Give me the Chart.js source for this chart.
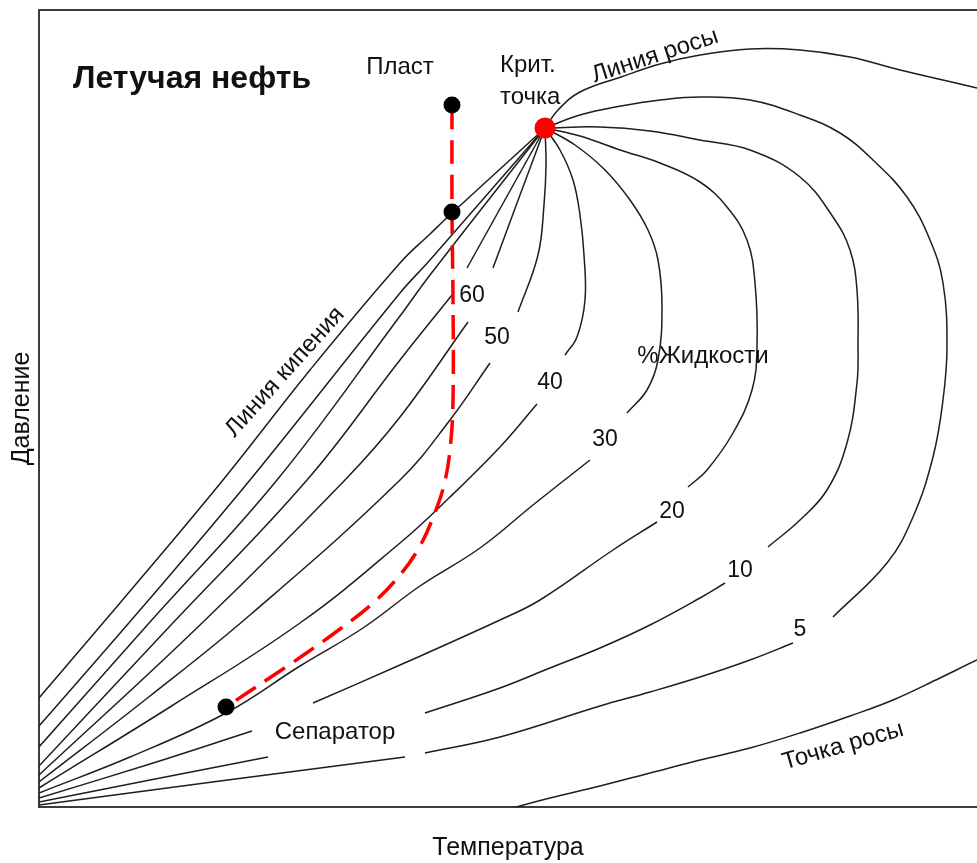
<!DOCTYPE html>
<html>
<head>
<meta charset="utf-8">
<script src="https://cdn.jsdelivr.net/npm/chart.js@4/dist/chart.umd.min.js"></script>
<style>
  html, body { margin: 0; padding: 0; background: #ffffff; overflow: hidden; }
  #c { display: block; }
</style>
</head>
<body>
<canvas id="c" width="977" height="863" style="width:977px;height:863px"></canvas>
<script>
// ---- Data (temperature, pressure) in arbitrary diagram units ----
const criticalPoint   = [[506, 679]];
const reservoirPoints = [[413, 702], [413, 595]];
const separatorPoint  = [[187, 100]];

const bubbleLine = [[506,679],[413,594],[391,573],[361,544],[271,437],[184,327],[81,204],[0,109],[-9,98]];
const lineA  = [[506,679],[391,547],[361,514],[211,327],[101,197],[0,81],[-9,71]];
const lineB  = [[506,679],[391,532],[361,491],[238,327],[111,185],[0,60],[-9,50]];
const lineCa = [[506,679],[428,539]];
const lineCb = [[413,512],[361,447],[268,327],[131,181],[0,41],[-9,31]];

const iso60a = [[506,679],[481,612],[454,539]];
const iso60b = [[429,485],[361,390],[306,327],[161,182],[0,32],[-9,24]];

const iso50a = [[506,679],[507,642],[505,602],[499,552],[479,495]];
const iso50b = [[451,444],[411,387],[361,327],[211,192],[111,111],[0,25],[-9,18]];

const iso40a = [[506,679],[521,657],[534,627],[541,592],[545,552],[546,507],[538,470],[526,452]];
const iso40b = [[498,403],[461,360],[411,310],[361,264],[261,184],[131,100],[0,19],[-9,13]];

const iso30a = [[506,679],[536,662],[566,637],[591,607],[609,577],[619,547],[623,500],[619,447],[608,417],[588,394]];
const iso30b = [[551,347],[494,302],[441,259],[381,221],[324,179],[261,141],[187,94],[91,50],[0,14],[-9,10]];

const iso20a = [[506,679],[541,671],[581,657],[621,644],[661,625],[688,600],[708,567],[716,524],[718,460],[713,417],[694,374],[668,337],[649,320]];
const iso20b = [[618,285],[574,257],[501,207],[461,187],[361,142],[274,104]];
const iso20c = [[213,76],[111,43],[0,9],[-9,6]];

const iso10a = [[506,679],[561,680],[611,676],[661,667],[711,657],[761,630],[794,590],[811,557],[818,517],[819,460],[818,424],[808,364],[788,317],[761,287],[729,260]];
const iso10b = [[686,224],[661,209],[611,182],[561,159],[511,139],[461,119],[386,94]];
const iso10c = [[229,50],[111,27],[0,5],[-9,3]];

const iso5a = [[506,679],[541,692],[582,701],[621,707],[661,710],[711,707],[761,692],[801,674],[834,647],[868,610],[891,567],[904,524],[908,460],[904,407],[894,350],[874,290],[848,244],[794,190]];
const iso5b = [[754,164],[711,147],[661,130],[611,115],[561,101],[461,70],[386,54]];
const iso5c = [[366,50],[181,26],[0,2],[-9,1]];

const dewUpper = [[506,679],[519,697],[541,715],[582,730],[621,743],[661,752],[711,758],[761,757],[811,750],[861,737],[938,719],[961,712]];
const dewLower = [[961,157],[938,147],[901,129],[854,107],[811,91],[761,74],[711,59],[661,47],[611,34],[561,21],[511,9],[481,1],[451,-8]];

const processPath = [[413,702],[413,595],[414,507],[414,407],[411,357],[405,322],[395,292],[381,261],[361,232],[333,203],[301,178],[266,153],[229,128],[187,100]];

// Text labels
const labels = [
  { text: 'Летучая нефть', t: 34,  p: 728, size: 32, weight: 'bold', align: 'left' },
  { text: 'Пласт',         t: 361, p: 740, size: 24 },
  { text: 'Крит.',         t: 461, p: 742, size: 24, align: 'left' },
  { text: 'точка',         t: 461, p: 710, size: 24, align: 'left' },
  { text: 'Линия кипения', t: 246, p: 435, size: 24, rot: -48 },
  { text: 'Линия росы',    t: 616, p: 751, size: 24, rot: -18 },
  { text: 'Точка росы',    t: 804, p: 61,  size: 24, rot: -16 },
  { text: '%Жидкости',     t: 664, p: 451, size: 24 },
  { text: 'Сепаратор',     t: 296, p: 75,  size: 24 },
  { text: '60', t: 433, p: 511, size: 23 },
  { text: '50', t: 458, p: 469, size: 23 },
  { text: '40', t: 511, p: 424, size: 23 },
  { text: '30', t: 566, p: 367, size: 23 },
  { text: '20', t: 633, p: 295, size: 23 },
  { text: '10', t: 701, p: 236, size: 23 },
  { text: '5',  t: 761, p: 177, size: 23 }
];

const FONT = "'Liberation Sans', Arial, Helvetica, sans-serif";
const TEXT_COLOR = '#111111';
const LINE_COLOR = '#1e1e1e';
const FRAME_COLOR = '#3c3c3c';

const toXY = a => a.map(([x, y]) => ({ x, y }));
const curve = d => ({
  data: toXY(d), showLine: true, borderColor: LINE_COLOR, borderWidth: 1.5,
  pointRadius: 0, tension: 0.4, fill: false, order: 3
});

const blackCurves = [bubbleLine, lineA, lineB, lineCa, lineCb,
  iso60a, iso60b, iso50a, iso50b, iso40a, iso40b, iso30a, iso30b,
  iso20a, iso20b, iso20c, iso10a, iso10b, iso10c, iso5a, iso5b, iso5c,
  dewUpper, dewLower];

const datasets = blackCurves.map(curve);
datasets.push({
  data: toXY(processPath), showLine: true, borderColor: '#ff0000', borderWidth: 3.5,
  borderDash: [24, 11], pointRadius: 0, tension: 0.4, fill: false, order: 2
});
datasets.push({
  data: toXY(reservoirPoints.concat(separatorPoint)), showLine: false,
  pointRadius: 8.5, pointBackgroundColor: '#000000', pointBorderWidth: 0, order: 1
});
datasets.push({
  data: toXY(criticalPoint), showLine: false,
  pointRadius: 10.5, pointBackgroundColor: '#ff0000', pointBorderWidth: 0, order: 0
});

const labelPlugin = {
  id: 'diagramLabels',
  afterDatasetsDraw(chart) {
    const { ctx, scales } = chart;
    labels.forEach(l => {
      const px = scales.x.getPixelForValue(l.t);
      const py = scales.y.getPixelForValue(l.p);
      ctx.save();
      ctx.translate(px, py);
      ctx.rotate((l.rot || 0) * Math.PI / 180);
      ctx.font = `${l.weight || 'normal'} ${l.size}px ${FONT}`;
      ctx.fillStyle = TEXT_COLOR;
      ctx.textAlign = l.align || 'center';
      ctx.textBaseline = 'middle';
      ctx.fillText(l.text, 0, 0);
      ctx.restore();
    });
  }
};

const hiddenAxis = (extra) => Object.assign({
  type: 'linear',
  ticks: { display: false },
  grid: { display: false, drawTicks: false },
  border: { display: true, color: FRAME_COLOR, width: 2 }
}, extra);

new Chart(document.getElementById('c'), {
  type: 'scatter',
  data: { datasets },
  plugins: [labelPlugin],
  options: {
    responsive: false,
    maintainAspectRatio: false,
    devicePixelRatio: 1,
    animation: false,
    events: [],
    layout: { autoPadding: false, padding: { top: 10, right: 0, bottom: 0, left: 0 } },
    elements: { line: { capBezierPoints: false } },
    plugins: { legend: { display: false }, tooltip: { enabled: false } },
    scales: {
      x: hiddenAxis({
        position: 'bottom', min: 0, max: 938,
        title: { display: true, text: 'Температура', color: TEXT_COLOR,
                 font: { family: FONT, size: 25 }, padding: { top: 26, bottom: 0 } }
      }),
      x2: hiddenAxis({ position: 'top', min: 0, max: 938 }),
      y: hiddenAxis({
        position: 'left', min: 0, max: 797,
        title: { display: true, text: 'Давление', color: TEXT_COLOR,
                 font: { family: FONT, size: 25 }, padding: { top: 7, bottom: 2 } }
      })
    }
  }
});
</script>
</body>
</html>
